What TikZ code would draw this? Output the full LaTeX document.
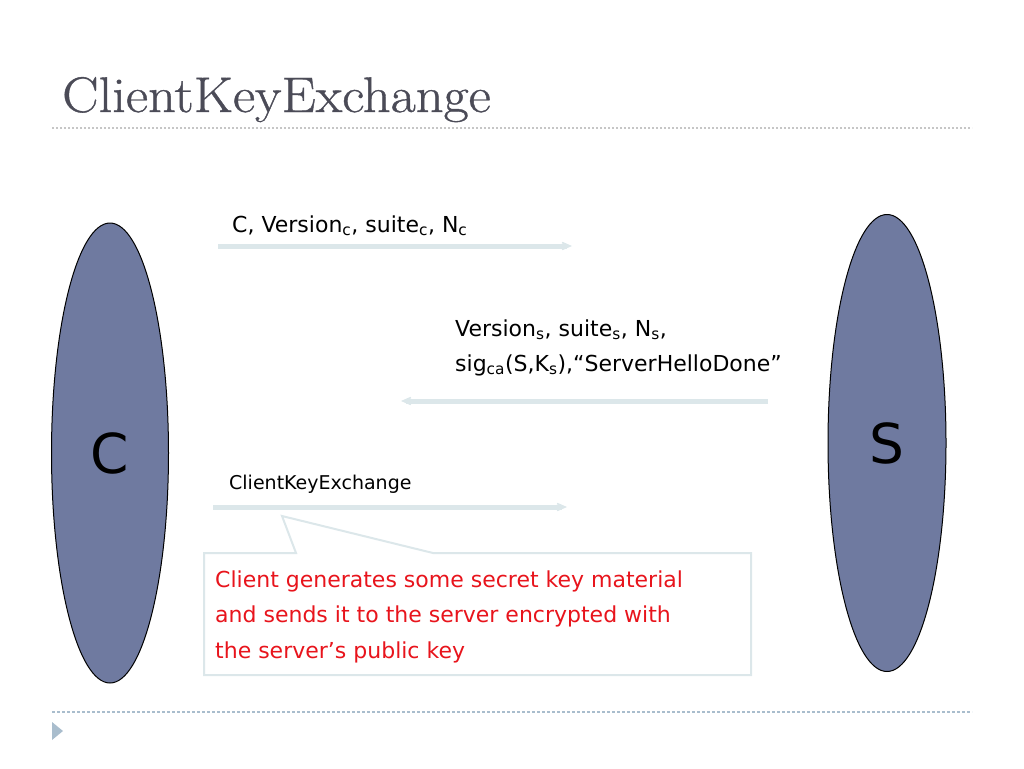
\documentclass[tikz,border=0pt]{standalone}
\usepackage{fontspec}
\newfontfamily\dejavu{DejaVu Sans}
\newfontfamily\titlefont[FakeStretch=1.09, FakeBold=0.8]{Latin Modern Roman}
\usepackage{tikz}
\usetikzlibrary{positioning, shapes.geometric, arrows.meta}
\usepackage{xcolor}
\definecolor{titlegray}{HTML}{4B4B57}
\definecolor{party}{HTML}{6F7AA0}
\definecolor{msgline}{HTML}{DCE7EA}
\definecolor{notered}{HTML}{E8141C}
\definecolor{rulegray}{HTML}{C6C6C6}
\definecolor{ruleblue}{HTML}{A9BDCD}

\begin{document}
\begin{tikzpicture}[x=1pt, y=-1pt,
  msg/.style={anchor=base west, inner sep=0pt, font=\dejavu\fontsize{22}{26}\selectfont},
  small/.style={anchor=base west, inner sep=0pt, font=\dejavu\fontsize{19}{23}\selectfont},
  redline/.style={anchor=base west, inner sep=0pt, text=notered, font=\dejavu\fontsize{22}{26}\selectfont},
  partybox/.style={ellipse, draw=black, line width=1pt, fill=party, inner sep=0pt,
    font=\dejavu\fontsize{55}{60}\selectfont},
  flow/.style={draw=msgline, line width=5pt, -{Stealth[length=17pt, width=15pt, inset=11pt]}}]
  \useasboundingbox (0,0) rectangle (1024,768);

  \node[anchor=base west, inner sep=0pt, text=titlegray, font=\titlefont\fontsize{50}{56}\selectfont]
    (ttl) at (62,112) {ClientKeyExchange};
  \draw[rulegray, line width=1.5pt, dash pattern=on 2pt off 2pt] (52,128) -- (972,128);
  \draw[ruleblue, line width=1.2pt, dash pattern=on 3pt off 2pt] (52,712) -- (972,712);
  \fill[ruleblue] (52,722) -- (63,731) -- (52,740) -- cycle;

  \node[partybox, minimum width=117pt, minimum height=460pt] (cl) at (110,453) {C};
  \node[partybox, minimum width=118pt, minimum height=457pt] (sv) at (887,443) {S};

  \node[msg] (m1) at (232,232) {C, Version\textsubscript{c}, suite\textsubscript{c}, N\textsubscript{c}};
  \node[msg] (m2a) at (455,336) {Version\textsubscript{s}, suite\textsubscript{s}, N\textsubscript{s},};
  \node[msg] (m2b) at (455,371) {sig\textsubscript{ca}(S,K\textsubscript{s}),“ServerHelloDone”};
  \node[small] (m3) at (229,489) {ClientKeyExchange};

  \coordinate (a1s) at (218,246);
  \coordinate (a1e) at (572,246);
  \coordinate (a2s) at (768,401);
  \coordinate (a2e) at (401,401);
  \coordinate (a3s) at (213,507);
  \coordinate (a3e) at (567,507);
  \draw[flow] (a1s) -- (a1e);
  \draw[flow] (a2s) -- (a2e);
  \draw[flow] (a3s) -- (a3e);

  % callout
  \coordinate (tip) at (282,516);
  \draw[msgline, line width=2pt, fill=white] (204,553) -- (296,553) -- (tip) -- (433,553)
    -- (751,553) -- (751,675) -- (204,675) -- cycle;
  \node[redline] (n1) at (215,587) {Client generates some secret key material};
  \node[redline] (n2) at (215,622) {and sends it to the server encrypted with};
  \node[redline] (n3) at (215,658) {the server’s public key};
\end{tikzpicture}
\end{document}
